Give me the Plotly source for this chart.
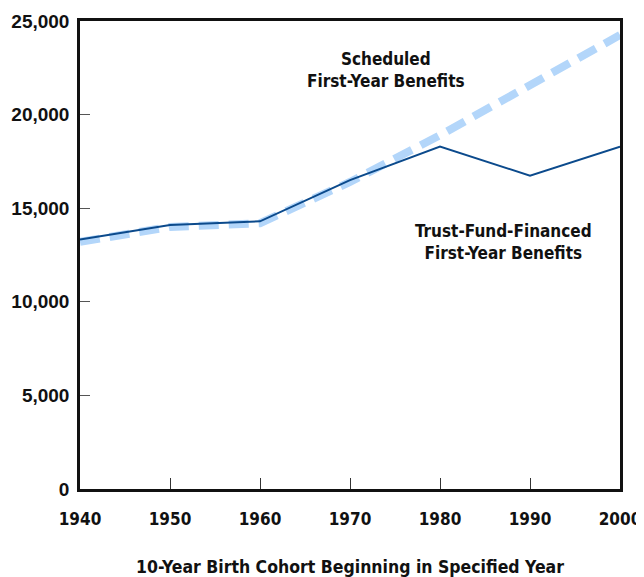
import plotly.graph_objects as go

years = [1940, 1950, 1960, 1970, 1980, 1990, 2000]
scheduled = [13200, 14000, 14200, 16400, 18900, 21600, 24250]
trust_fund = [13330, 14100, 14300, 16500, 18290, 16740, 18290]
y_ticks = [0, 5000, 10000, 15000, 20000, 25000]
y_labels = ["0", "5,000", "10,000", "15,000", "20,000", "25,000"]

narrow = "DejaVu Sans Condensed, Liberation Sans Narrow, sans-serif"
wide = "Liberation Sans, Arial, sans-serif"

fig = go.Figure()
fig.add_trace(go.Scatter(x=years, y=scheduled, mode="lines", name="Scheduled",
                         line=dict(color="#b3d6fa", width=8, dash="20px,10px")))
fig.add_trace(go.Scatter(x=years, y=trust_fund, mode="lines", name="Trust-Fund-Financed",
                         line=dict(color="#0b4a8c", width=2)))

fig.add_annotation(x=1974, y=22400, text="Scheduled<br>First-Year Benefits",
                   showarrow=False,
                   font=dict(family=narrow, size=17, color="#111", weight="bold"))
fig.add_annotation(x=1987, y=13170, text="Trust-Fund-Financed<br>First-Year Benefits",
                   showarrow=False,
                   font=dict(family=narrow, size=17, color="#111", weight="bold"))

fig.update_xaxes(range=[1940, 2000], tickvals=years, automargin=False,
                 ticks="inside", ticklen=11, tickwidth=1, tickcolor="#333",
                 showline=True, linewidth=2.5, linecolor="#111", mirror=True,
                 showgrid=False, zeroline=False, ticklabelstandoff=13,
                 tickfont=dict(family=narrow, size=17, color="#111", weight="bold"),
                 title=dict(text="10-Year Birth Cohort Beginning in Specified Year",
                            font=dict(family=narrow, size=17.5, color="#111", weight="bold"),
                            standoff=33))
fig.update_yaxes(range=[0, 25000], tickvals=y_ticks, ticktext=y_labels, automargin=False,
                 ticks="inside", ticklen=10, tickwidth=1, tickcolor="#555",
                 showline=True, linewidth=2.5, linecolor="#111", mirror=True,
                 showgrid=False, zeroline=False, ticklabelstandoff=4,
                 tickfont=dict(family=wide, size=19, color="#111", weight="bold"))

# the page body has an 8px margin, so the figure is made 8px smaller to fit
fig.update_layout(width=636, height=569, margin=dict(l=72, r=24, t=13, b=88),
                  plot_bgcolor="white", paper_bgcolor="white", showlegend=False)

fig.write_html("out.html")
